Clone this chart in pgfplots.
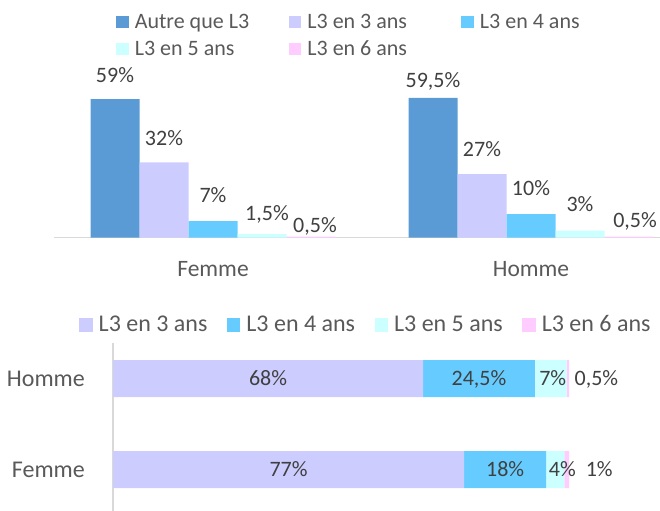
\documentclass[border=0pt]{standalone}
\usepackage{pgfplots}
\pgfplotsset{compat=1.18}
\usepackage{fontspec}
\setmainfont{Carlito}
\definecolor{cA}{HTML}{5B9BD5}
\definecolor{cB}{HTML}{CCCCFF}
\definecolor{cC}{HTML}{66CCFF}
\definecolor{cD}{HTML}{CCFFFF}
\definecolor{cE}{HTML}{FFCCFF}
\definecolor{axgray}{HTML}{D9D9D9}
\definecolor{lgray}{HTML}{595959}
\definecolor{dgray}{HTML}{404040}
\protected\def\tx#1#2{\hbox{\kern#1\relax#2}}
\begin{document}
\begin{tikzpicture}[font=\fontsize{22bp}{26bp}\selectfont]
\useasboundingbox (0,0) rectangle (660bp,511bp);
% ---------------- top chart ----------------
\begin{axis}[
  at={(54bp,273.3bp)}, anchor=south west,
  x=318bp, y=2.35bp,
  xmin=-0.5, xmax=1.4057, ymin=0, ymax=60,
  enlargelimits=false, clip=false,
  ybar=0pt, bar width=49bp,
  axis x line*=bottom, hide y axis,
  x axis line style={draw=axgray, line width=1.3bp, -},
  xtick={0,1}, xticklabels={Femme,Homme},
  xtick style={draw=none}, major tick length=0pt,
  xticklabel style={anchor=base, inner sep=0pt, yshift=-39bp, text=lgray, font=\fontsize{23.5bp}{28bp}\selectfont},
  point meta=explicit symbolic,
  nodes near coords,
  nodes near coords style={anchor=base, inner sep=0pt, yshift=17bp, text=dgray},
  legend columns=3,
  legend style={draw=none, fill=none, inner sep=0pt,
    at={(0.1023,1.5844)}, anchor=north west,
    row sep=12.7bp,
    nodes={inner sep=0pt, text height=14bp, text depth=0pt, text=lgray},
    cells={anchor=base west},
    /tikz/every odd column/.append style={column sep=6bp},
    /tikz/every even column/.append style={column sep=0bp}},
  legend image code/.code={\fill[#1] (0bp,0bp) rectangle (12.6bp,12.6bp);},
]
\addplot[fill=cA, draw=none] coordinates {(0,59) [59\%] (1,59.5) [{\raisebox{-7bp}{59,5\%}}]};
\addlegendentry{\makebox[154bp][l]{Autre que L3}}
\addplot[fill=cB, draw=none] coordinates {(0,32) [32\%] (1,27) [{\raisebox{1bp}{27\%}}]};
\addlegendentry{\makebox[154bp][l]{L3 en 3 ans}}
\addplot[fill=cC, draw=none] coordinates {(0,7) [{\raisebox{2bp}{7\%}}] (1,10) [{\raisebox{2bp}{10\%}}]};
\addlegendentry{\makebox[154bp][l]{L3 en 4 ans}}
\addplot[fill=cD, draw=none] coordinates {(0,1.5) [{\raisebox{-3bp}{\hspace*{10bp}1,5\%}}] (1,3) [{\raisebox{2bp}{3\%}}]};
\addlegendentry{\makebox[154bp][l]{L3 en 5 ans}}
\addplot[fill=cE, draw=none] coordinates {(0,0.5) [{\raisebox{-13bp}{\hspace*{8bp}0,5\%}}] (1,0.5) [{\raisebox{-8bp}{\hspace*{12bp}0,5\%}}]};
\addlegendentry{\makebox[154bp][l]{L3 en 6 ans}}
\end{axis}
% ---------------- bottom chart ----------------
\begin{axis}[
  at={(113bp,0bp)}, anchor=south west,
  x=4.56bp, y=91bp,
  xmin=0, xmax=119.96, ymin=-0.456, ymax=1.39,
  enlargelimits=false, clip=false,
  xbar stacked, bar width=37bp,
  axis y line*=left, hide x axis,
  y axis line style={draw=axgray, line width=1.3bp, -},
  ytick={0,1}, yticklabels={Femme,Homme},
  ytick style={draw=none}, major tick length=0pt,
  yticklabel style={anchor=base east, inner sep=0pt, xshift=-28bp, yshift=-7.5bp, text=lgray, font=\fontsize{24bp}{28bp}\selectfont},
  point meta=explicit symbolic,
  nodes near coords,
  nodes near coords style={anchor=base, inner sep=0pt, yshift=-7bp, text=dgray},
  legend columns=4,
  legend style={draw=none, fill=none, inner sep=0pt,
    at={(-0.06216,1.1565)}, anchor=north west,
    font=\fontsize{24bp}{28bp}\selectfont,
    nodes={inner sep=0pt, text height=15bp, text depth=0pt, text=lgray},
    cells={anchor=base west},
    /tikz/every odd column/.append style={column sep=6bp},
    /tikz/every even column/.append style={column sep=0bp}},
  legend image code/.code={\fill[#1] (0bp,0bp) rectangle (13.5bp,13.5bp);},
]
\addplot[fill=cB, draw=none] coordinates {(77,0) [{\tx{0bp}{77\%}}] (68,1) [{\tx{0bp}{68\%}}]};
\addlegendentry{\makebox[128.2bp][l]{L3 en 3 ans}}
\addplot[fill=cC, draw=none] coordinates {(18,0) [{\tx{0bp}{18\%}}] (24.5,1) [{\tx{0bp}{24,5\%}}]};
\addlegendentry{\makebox[128.2bp][l]{L3 en 4 ans}}
\addplot[fill=cD, draw=none] coordinates {(4,0) [{\tx{14bp}{4\%}}] (7,1) [{\tx{4bp}{7\%}}]};
\addlegendentry{\makebox[128.2bp][l]{L3 en 5 ans}}
\addplot[fill=cE, draw=none] coordinates {(1,0) [{\tx{65bp}{1\%}}] (0.5,1) [{\tx{57bp}{0,5\%}}]};
\addlegendentry{\makebox[128.2bp][l]{L3 en 6 ans}}
\end{axis}
\end{tikzpicture}
\end{document}
